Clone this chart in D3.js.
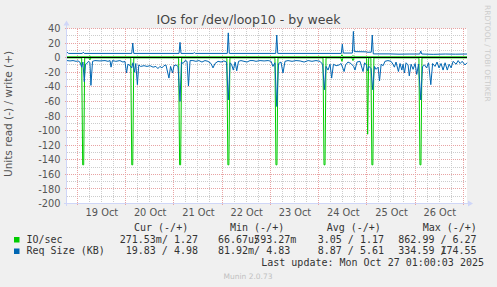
<!DOCTYPE html>
<html>
<head>
<meta charset="utf-8">
<script src="https://cdn.jsdelivr.net/npm/d3@7"></script>
<style>
  html, body { margin: 0; padding: 0; background: #f0f0f0; }
  svg { display: block; }
</style>
</head>
<body>
<div id="chart"></div>
<script>
const width = 497, height = 287;
const plot = { left: 67, right: 467, top: 28.5, bottom: 203.5 };

const green = "#00cc00";
const blue = "#0066b3";
const axisColor = "#cfd6f8";
const textColor = "#555555";
const majorGrid = "#e8a3a3";
const minorGrid = "#cccccc";

const title = "IOs for /dev/loop10 - by week";
const unitLabel = "Units read (-) / write (+)";

// times are hours counted from 19 Oct 2025 00:00
const base = new Date(2025, 9, 19);
const startHour = -5.1, endHour = 193.8;
const yTicks = [-200, -180, -160, -140, -120, -100, -80, -60, -40, -20, 0, 20, 40];

// IO/sec, read side (drawn negative)
const ioRead = [[-5.1,0.3],[2.2,0.3],[2.7,147],[3.2,147],[3.7,0.3],[5.8,0.3],[6.3,3],[6.8,0.3],
  [26.6,0.3],[27.1,147],[27.6,147],[28.1,0.3],[50.4,0.3],[50.9,147],[51.4,147],[51.9,0.3],
  [74.4,0.3],[74.9,147],[75.4,147],[75.9,0.3],[98.3,0.3],[98.8,147],[99.3,147],[99.8,0.3],
  [122.2,0.3],[122.7,147],[123.2,147],[123.7,0.3],[131.1,0.3],[131.6,5],[132.1,0.3],
  [136.6,0.3],[137.1,4],[137.6,0.3],[143.9,0.3],[144.4,105],[144.9,0.3],
  [146.0,0.3],[146.5,147],[147.0,147],[147.5,0.3],[169.9,0.3],[170.4,147],[170.9,147],[171.4,0.3],
  [193.8,0.3]];

// IO/sec, write side
const ioWrite = [[-5.1,1.2],[5.8,1.2],[6.3,2.5],[6.8,1.2],[131.1,1.2],[131.6,4],[132.1,1.2],
  [136.6,1.2],[137.1,3],[137.6,1.2],[193.8,1.2]];

// Req Size (KB), read side (drawn negative)
const reqRead = [[-5.1,4],[-3.6,4.5],[-2.1,4],[-0.6,5],[0.4,4.5],[1.3,6],[2.2,13],[2.8,6],[3.5,33],
  [4.1,9],[4.8,8],[5.6,5],[6.3,7],[6.8,38],[7.6,5],[8.8,4],[11.3,4.5],[13.8,4],[15.3,5],[16.3,4],
  [16.8,13],[17.5,4],[19.2,5],[21.2,4],[22.7,6],[23.7,5],[24.5,21],[25.2,9],[26.3,11],[27.1,14],
  [27.7,7],[28.5,20],[29.1,8],[29.9,37],[30.6,10],[31.5,12],[33.2,11],[34.7,12],[36.2,11],
  [37.7,13],[39.1,12],[40.1,15],[41.1,12],[42.1,14],[43.1,11],[44.1,10],[45.6,28],[46.4,12],
  [47.4,21],[48.1,11],[49.1,10],[50.1,12],[51.1,60],[51.8,6],[52.6,8],[53.6,4],[54.6,5],
  [55.3,39],[56.1,4],[57.5,4],[59,5],[60.5,4],[62,6],[63.5,4],[65,5],[66.5,8],[67.5,14],[68.5,8],
  [70,5],[71.5,6],[72.9,4.5],[74.2,6],[75.1,58],[76,7],[76.7,9],[77.6,17],[78.5,6],[79.3,18],
  [80.2,5],[81.4,4],[82.9,5],[84.4,6],[85.9,4],[87.4,4],[88.9,5],[90.9,4],[92.9,4.5],[94.9,4],
  [96.4,5],[97.3,12],[98.3,7],[99.2,67],[100.1,8],[101.3,6],[102.3,21],[103.3,5],[104.8,4],
  [106.8,5],[108.8,4],[110.8,4.5],[112.8,6],[114.8,4],[116.7,5],[118.7,4],[120.7,5],[122,9],
  [122.9,44],[123.7,12],[124.7,17],[125.7,9],[126.5,28],[127.4,9],[128.7,11],[130.2,10],
  [131.2,8],[132.7,19],[133.4,10],[134.6,6],[136.1,8],[137.4,12],[138.1,17],[139.1,6],
  [140.6,5],[142.1,19],[142.9,7],[143.8,10],[144.3,18],[145.1,12],[146.1,15],[146.9,44],
  [147.8,12],[148.6,16],[149.6,13],[150.3,32],[151.1,9],[152.1,11],[153,5],[154.5,4],[156,5],
  [157,9],[157.7,13],[158.5,6],[159.7,19],[160.5,8],[161.4,17],[162,9],[162.7,21],[163.5,7],
  [164.5,10],[165.1,25],[166,9],[167,16],[168,8],[168.8,23],[169.7,9],[170.8,58],[171.7,12],
  [172.7,10],[173.7,14],[174.7,7],[175.8,37],[176.7,8],[177.9,12],[178.9,6],[179.9,14],
  [180.9,8],[181.9,17],[182.9,7],[184,17],[184.9,9],[185.9,14],[186.9,5],[188.4,9],[189.4,4],
  [190.4,8],[191.4,5],[192.8,10],[193.8,7]];

// Req Size (KB), write side
const reqWrite = [[-5.1,7.5],[-4.3,5.8],[2.5,5.8],[3.0,7.5],[3.5,5.8],[27.1,5.8],[27.6,20],
  [28.1,5.8],[50.6,5.8],[51.1,21],[51.6,5.8],[57.7,5.8],[58.2,7],[58.7,5.8],[74.6,5.8],
  [75.1,34],[75.6,5.8],[98.7,5.8],[99.2,31],[99.7,5.8],[131.3,5.8],[131.8,18.5],[132.3,6.3],
  [136.8,6.3],[137.3,36],[137.8,8.3],[143.6,8],[144.1,7.5],[146.2,7.5],[146.7,31],[147.2,5.2],
  [155,5.2],[160,4.8],[165,5],[170.3,5],[170.8,9],[171.3,5],[177,4.6],[183,5],[188,4.8],
  [193.8,5]];

const legendNames = ["IO/sec", "Req Size (KB)"];
const legendColors = [green, blue];
const legendHeads = ["Cur (-/+)", "Min (-/+)", "Avg (-/+)", "Max (-/+)"];
const legendCur = ["271.53m/ 1.27", "19.83 / 4.98"];
const legendMin = ["66.67u/593.27m", "81.92m/ 4.83"];
const legendAvg = ["3.05 / 1.17", "8.87 / 5.61"];
const legendMax = ["862.99 / 6.27", "334.59 /174.55"];
const lastUpdate = "Last update: Mon Oct 27 01:00:03 2025";

const at = h => new Date(base.getTime() + h * 3600e3);
const crisp = v => Math.round(v - 0.5) + 0.5;

const x = d3.scaleTime().domain([at(startHour), at(endHour)]).range([plot.left, plot.right]);
const y = d3.scaleLinear().domain([-200, 40]).range([plot.bottom, plot.top]);

const svg = d3.select("#chart").append("svg")
  .attr("width", width)
  .attr("height", height)
  .style("font-family", "'DejaVu Sans', sans-serif");

svg.append("rect").attr("width", width).attr("height", height).attr("fill", "#f0f0f0");
svg.append("rect")
  .attr("x", plot.left).attr("y", plot.top)
  .attr("width", plot.right - plot.left).attr("height", plot.bottom - plot.top)
  .attr("fill", "#ffffff");

// grid
const grid = svg.append("g")
  .attr("shape-rendering", "crispEdges")
  .attr("stroke-dasharray", "1,1");

const [t0, t1] = x.domain();
const days = d3.timeDay.range(t0, t1);
const quarters = d3.timeHour.every(6).range(t0, t1).filter(d => d.getHours() !== 0);
const noons = days.map(d => d3.timeHour.offset(d, 12)).filter(d => d < t1);

grid.selectAll("line.hmin")
  .data(d3.range(-200, 41, 10).filter(v => v % 20 !== 0))
  .join("line")
    .attr("x1", plot.left).attr("x2", plot.right)
    .attr("y1", d => crisp(y(d))).attr("y2", d => crisp(y(d)))
    .attr("stroke", minorGrid);

grid.selectAll("line.vmin")
  .data(quarters)
  .join("line")
    .attr("x1", d => crisp(x(d))).attr("x2", d => crisp(x(d)))
    .attr("y1", plot.top).attr("y2", plot.bottom)
    .attr("stroke", minorGrid);

grid.selectAll("line.hmaj")
  .data(yTicks)
  .join("line")
    .attr("x1", plot.left - 2).attr("x2", plot.right)
    .attr("y1", d => crisp(y(d))).attr("y2", d => crisp(y(d)))
    .attr("stroke", majorGrid);

grid.selectAll("line.vmaj")
  .data(days)
  .join("line")
    .attr("x1", d => crisp(x(d))).attr("x2", d => crisp(x(d)))
    .attr("y1", plot.top).attr("y2", plot.bottom + 2.5)
    .attr("stroke", majorGrid);

// axes (labels only, rrdtool style)
const yAxis = svg.append("g")
  .attr("transform", `translate(${plot.left},0)`)
  .call(d3.axisLeft(y).tickValues(yTicks).tickFormat(d => String(d)).tickSize(0).tickPadding(6.5));

const xAxis = svg.append("g")
  .attr("transform", `translate(0,${plot.bottom})`)
  .call(d3.axisBottom(x)
    .tickValues(noons)
    .tickFormat(d3.timeFormat("%d %b"))
    .tickSize(0).tickPadding(6));

[yAxis, xAxis].forEach(g => {
  g.select(".domain").remove();
  g.selectAll("text")
    .attr("fill", textColor)
    .style("font-family", "'DejaVu Sans', sans-serif")
    .style("font-size", "9.8px");
});

// series
const line = d3.line()
  .x(d => x(at(d[0])))
  .y(d => y(d[1]));

const series = [
  { data: ioRead, sign: -1, color: green },
  { data: ioWrite, sign: 1, color: green },
  { data: reqRead, sign: -1, color: blue },
  { data: reqWrite, sign: 1, color: blue }
];

svg.append("g")
  .selectAll("path")
  .data(series)
  .join("path")
    .attr("d", s => line(s.data.map(d => [d[0], s.sign * d[1]])))
    .attr("fill", "none")
    .attr("stroke", s => s.color)
    .attr("stroke-width", 1);

// zero rule
svg.append("line")
  .attr("x1", plot.left).attr("x2", plot.right)
  .attr("y1", crisp(y(0))).attr("y2", crisp(y(0)))
  .attr("stroke", "#000000")
  .attr("shape-rendering", "crispEdges");

// axis lines with arrows
const axes = svg.append("g").attr("fill", axisColor).attr("stroke", axisColor);
axes.append("line")
  .attr("x1", plot.left - 0.5).attr("x2", plot.left - 0.5)
  .attr("y1", plot.bottom + 2).attr("y2", plot.top - 4)
  .attr("shape-rendering", "crispEdges");
axes.append("line")
  .attr("x1", plot.left - 3).attr("x2", plot.right + 4)
  .attr("y1", plot.bottom).attr("y2", plot.bottom)
  .attr("shape-rendering", "crispEdges");
axes.append("path")
  .attr("stroke", "none")
  .attr("d", `M${plot.left - 3.5},${plot.top - 3} L${plot.left - 0.5},${plot.top - 8} L${plot.left + 2.5},${plot.top - 3} Z`);
axes.append("path")
  .attr("stroke", "none")
  .attr("d", `M${plot.right + 1},${plot.bottom - 3} L${plot.right + 6},${plot.bottom} L${plot.right + 1},${plot.bottom + 3} Z`);

// title and side labels
svg.append("text")
  .attr("x", 248.5).attr("y", 24)
  .attr("text-anchor", "middle")
  .attr("fill", "#444444")
  .style("font-size", "12.5px")
  .text(title);

svg.append("text")
  .attr("transform", "translate(12,114) rotate(-90)")
  .attr("text-anchor", "middle")
  .attr("fill", textColor)
  .style("font-size", "10.5px")
  .text(unitLabel);

svg.append("text")
  .attr("transform", "translate(485,5) rotate(90)")
  .attr("fill", "#cccccc")
  .style("font-size", "7.5px")
  .text("RRDTOOL / TOBI OETIKER");

// legend
const mono = "'DejaVu Sans Mono', monospace";
const cw = 6.02;
const legend = svg.append("g")
  .attr("fill", "#333333")
  .style("font-family", mono)
  .style("font-size", "10px")
  .attr("xml:space", "preserve");

const headX = [134, 230, 326.7, 422.7];
legend.selectAll("text.head")
  .data(legendHeads)
  .join("text")
    .attr("x", (d, i) => headX[i]).attr("y", 230.5)
    .text(d => d);

const rowY = [242.5, 254];
legendNames.forEach((name, r) => {
  legend.append("rect")
    .attr("x", 14).attr("y", rowY[r] - 5.5)
    .attr("width", 5.5).attr("height", 5.5)
    .attr("fill", legendColors[r]);
  legend.append("text").attr("x", 26.5).attr("y", rowY[r]).text(name);
});

// each column: [strings, x, anchor]; over-long pairs overlap on the slash like rrdtool does
const columns = [
  [legendCur, 198, "end"],
  [legendMin, 218, "start"],
  [legendAvg, 384, "end"],
  [legendMax, 398.3, "start"]
];
columns.forEach(([vals, cx, anchor]) => {
  vals.forEach((str, r) => {
    const slash = str.indexOf("/");
    const overlap = str.length > 13;
    const len = overlap ? str.length - 1 : str.length;
    const x0 = anchor === "end" ? cx - len * cw : cx;
    if (overlap) {
      legend.append("text").attr("x", x0).attr("y", rowY[r]).text(str.slice(0, slash + 1));
      legend.append("text").attr("x", x0 + slash * cw).attr("y", rowY[r]).text(str.slice(slash + 1));
    } else {
      legend.append("text").attr("x", x0).attr("y", rowY[r]).text(str);
    }
  });
});

legend.append("text")
  .attr("x", 484).attr("y", 265.5)
  .attr("text-anchor", "end")
  .text(lastUpdate);

svg.append("text")
  .attr("x", 248).attr("y", 279)
  .attr("text-anchor", "middle")
  .attr("fill", "#c0c0c0")
  .style("font-size", "7.5px")
  .text("Munin 2.0.73");
</script>
</body>
</html>
